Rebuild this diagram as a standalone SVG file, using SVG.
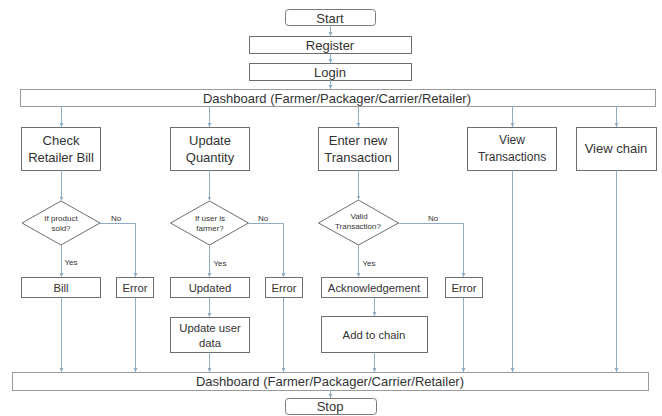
<svg xmlns="http://www.w3.org/2000/svg" width="662" height="416" viewBox="0 0 662 416">
<style>
.box{fill:#fff;stroke:#6e6e6e;stroke-width:1}
.bar{fill:#fff;stroke:#9a9a9a;stroke-width:1}
.rnd{fill:#fff;stroke:#7a7a7a;stroke-width:1}
.t{font-family:"Liberation Sans",Arial,sans-serif;fill:#333;text-anchor:middle;dominant-baseline:central}
.t13{font-size:13px}
.t12{font-size:12px}
.t11{font-size:11.3px}
.t8{font-size:8px}
.c{fill:none;stroke:#8eacc4;stroke-width:1;marker-end:url(#ah)}
</style>
<defs>
<marker id="ah" markerWidth="5" markerHeight="5" refX="4" refY="2.5" orient="auto" markerUnits="userSpaceOnUse">
<path d="M0,0.5 L4,2.5 L0,4.5 z" fill="#8eacc4"/>
</marker>
</defs>
<rect width="662" height="416" fill="#fff"/>
<g id="start"><rect class="rnd" x="285.5" y="9.5" width="90" height="16" rx="3"/><text class="t t13" x="330" y="18">Start</text></g>
<g id="register"><rect class="box" x="249.5" y="36.5" width="162" height="17"/><text class="t t13" x="330" y="45">Register</text></g>
<g id="login"><rect class="box" x="249.5" y="63.5" width="162" height="17"/><text class="t t13" x="330" y="72">Login</text></g>
<g id="dashboard-top"><rect class="bar" x="20.5" y="89.5" width="635" height="17"/><text class="t t13" x="337" y="98">Dashboard (Farmer/Packager/Carrier/Retailer)</text></g>
<g id="check-bill"><rect class="box" x="21.5" y="127.5" width="79" height="43"/><text class="t t13" x="61" y="140">Check</text><text class="t t13" x="61" y="157">Retailer Bill</text></g>
<g id="update-qty"><rect class="box" x="170.5" y="127.5" width="79" height="43"/><text class="t t13" x="210" y="140">Update</text><text class="t t13" x="210" y="157">Quantity</text></g>
<g id="enter-tx"><rect class="box" x="318.5" y="127.5" width="80" height="43"/><text class="t t13" x="358" y="140">Enter new</text><text class="t t13" x="358" y="157">Transaction</text></g>
<g id="view-tx"><rect class="box" x="467.5" y="127.5" width="89" height="43"/><text class="t t12" x="512" y="140">View</text><text class="t t12" x="512" y="157">Transactions</text></g>
<g id="view-chain"><rect class="box" x="576.5" y="127.5" width="80" height="43"/><text class="t t13" x="616" y="148">View chain</text></g>
<g id="d1"><path class="box" d="M61,201 L100,223 L61,245 L22,223 Z"/><text class="t t8" x="61" y="218">If product</text><text class="t t8" x="61" y="228">sold?</text></g>
<g id="d2"><path class="box" d="M209.5,201 L248.5,223 L209.5,245 L170.5,223 Z"/><text class="t t8" x="210" y="218">If user is</text><text class="t t8" x="210" y="228">farmer?</text></g>
<g id="d3"><path class="box" d="M358.5,200 L398.5,223 L358.5,245 L318.5,223 Z"/><text class="t t8" x="359" y="216">Valid</text><text class="t t8" x="358" y="226">Transaction?</text></g>
<g id="bill"><rect class="box" x="21.5" y="277.5" width="79" height="20"/><text class="t t11" x="61" y="287.5">Bill</text></g>
<g id="error1"><rect class="box" x="116.5" y="277.5" width="37" height="20"/><text class="t t11" x="135" y="287.5">Error</text></g>
<g id="updated"><rect class="box" x="170.5" y="277.5" width="79" height="20"/><text class="t t11" x="210" y="287.5">Updated</text></g>
<g id="error2"><rect class="box" x="265.5" y="277.5" width="37" height="20"/><text class="t t11" x="284" y="287.5">Error</text></g>
<g id="ack"><rect class="box" x="321.5" y="277.5" width="106" height="20"/><text class="t t11" x="374" y="287.5">Acknowledgement</text></g>
<g id="error3"><rect class="box" x="445.5" y="277.5" width="37" height="20"/><text class="t t11" x="464" y="287.5">Error</text></g>
<g id="update-user"><rect class="box" x="170.5" y="317.5" width="79" height="35"/><text class="t t11" x="210" y="328">Update user</text><text class="t t11" x="210" y="343">data</text></g>
<g id="add-chain"><rect class="box" x="321.5" y="316.5" width="106" height="36"/><text class="t t11" x="374" y="334.5">Add to chain</text></g>
<g id="dashboard-bottom"><rect class="bar" x="12.5" y="372.5" width="636" height="18"/><text class="t t13" x="330" y="381.5">Dashboard (Farmer/Packager/Carrier/Retailer)</text></g>
<g id="stop"><rect class="rnd" x="285.5" y="398.5" width="91" height="16" rx="3"/><text class="t t13" x="330" y="406.5">Stop</text></g>
<g id="labels">
<text class="t t8" x="116" y="218">No</text>
<text class="t t8" x="263" y="218">No</text>
<text class="t t8" x="433" y="218">No</text>
<text class="t t8" x="71" y="262">Yes</text>
<text class="t t8" x="220" y="263">Yes</text>
<text class="t t8" x="369" y="263">Yes</text>
</g>
<g id="connectors">
<path class="c" d="M330.5,25.5 V36"/>
<path class="c" d="M330.5,53.5 V63"/>
<path class="c" d="M330.5,80.5 V89"/>
<path class="c" d="M61.5,106.5 V127"/>
<path class="c" d="M209.5,106.5 V127"/>
<path class="c" d="M358.5,106.5 V127"/>
<path class="c" d="M512.5,106.5 V127"/>
<path class="c" d="M616.5,106.5 V127"/>
<path class="c" d="M61.5,170.5 V200.5"/>
<path class="c" d="M209.5,170.5 V200.5"/>
<path class="c" d="M358.5,170.5 V199.5"/>
<path class="c" d="M61.5,245 V277"/>
<path class="c" d="M100,223.5 H135.5 V277"/>
<path class="c" d="M209.5,245 V277"/>
<path class="c" d="M248.5,223.5 H283.5 V277"/>
<path class="c" d="M358.5,245 V277"/>
<path class="c" d="M398.5,223.5 H463.5 V277"/>
<path class="c" d="M61.5,297.5 V372"/>
<path class="c" d="M135.5,297.5 V372"/>
<path class="c" d="M209.5,297.5 V317"/>
<path class="c" d="M209.5,352.5 V372"/>
<path class="c" d="M283.5,297.5 V372"/>
<path class="c" d="M374.5,297.5 V316"/>
<path class="c" d="M374.5,352.5 V372"/>
<path class="c" d="M463.5,297.5 V372"/>
<path class="c" d="M512.5,170.5 V372"/>
<path class="c" d="M616.5,170.5 V372"/>
<path class="c" d="M330.5,390.5 V398"/>
</g>
</svg>
